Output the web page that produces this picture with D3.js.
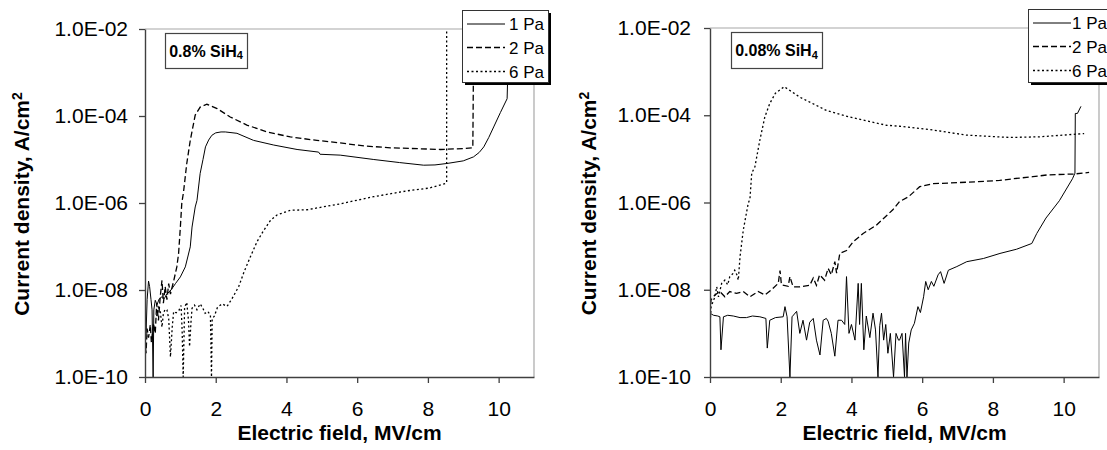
<!DOCTYPE html>
<html>
<head>
<meta charset="utf-8">
<script src="https://cdn.jsdelivr.net/npm/d3@7"></script>
<style>
  html, body { margin: 0; padding: 0; background: #fff; }
  svg { display: block; font-family: "Liberation Sans", Arial, sans-serif; }
</style>
</head>
<body>
<svg id="chart" width="1107" height="450"></svg>
<script>
// Current density vs. electric field, two SiH4 concentrations, three pressures.
// Each point: [electric field (MV/cm), current density (A/cm^2)]

const pressures = ["1 Pa", "2 Pa", "6 Pa"];
const xTicks = [0, 2, 4, 6, 8, 10];
const yTicks = [1e-2, 1e-4, 1e-6, 1e-8, 1e-10];
const panelTitles = ["0.8% SiH", "0.08% SiH"];

// 0.8% SiH4
const left1Pa = [[0.00,3.0e-9],[0.03,1.0e-9],[0.06,6.0e-9],[0.10,1.6e-8],[0.13,1.2e-8],[0.17,6.0e-9],[0.20,3.5e-9],[0.23,1.0e-10],[0.25,3.5e-9],[0.29,5.8e-9],[0.34,4.6e-9],[0.40,6.2e-9],[0.48,7.0e-9],[0.55,6.4e-9],[0.62,8.3e-9],[0.70,9.2e-9],[0.76,1.07e-8],[0.86,1.4e-8],[1.00,2.0e-8],[1.14,3.4e-8],[1.28,9.8e-8],[1.33,2.8e-7],[1.42,8.1e-7],[1.47,1.15e-6],[1.56,4.8e-6],[1.64,1.0e-5],[1.71,1.95e-5],[1.80,2.8e-5],[1.89,3.6e-5],[2.00,4.1e-5],[2.15,4.3e-5],[2.27,4.3e-5],[2.60,4.0e-5],[3.07,2.75e-5],[3.64,2.15e-5],[4.30,1.7e-5],[4.91,1.48e-5],[4.95,1.32e-5],[5.52,1.26e-5],[6.47,1.0e-5],[7.20,8.5e-6],[7.88,7.4e-6],[8.20,7.5e-6],[8.54,8.1e-6],[9.00,9.3e-6],[9.29,1.15e-5],[9.45,1.45e-5],[9.58,1.95e-5],[9.72,3.2e-5],[9.86,5.6e-5],[10.05,1.2e-4],[10.24,2.5e-4],[10.27,2.0e-3]];
const left2Pa = [[0.00,7.0e-10],[0.03,3.5e-10],[0.06,1.3e-9],[0.10,8.0e-10],[0.15,1.6e-9],[0.18,6.3e-10],[0.24,1.7e-9],[0.29,1.0e-9],[0.33,4.9e-9],[0.38,2.0e-9],[0.43,6.9e-9],[0.48,1.66e-8],[0.52,5.0e-9],[0.57,1.2e-8],[0.62,6.0e-9],[0.67,1.4e-8],[0.72,8.0e-9],[0.76,1.1e-8],[0.81,1.6e-8],[0.90,3.4e-8],[0.95,6.9e-8],[1.00,2.8e-7],[1.04,9.8e-7],[1.09,1.8e-6],[1.18,8.0e-6],[1.28,2.75e-5],[1.42,1.05e-4],[1.56,1.6e-4],[1.75,1.86e-4],[2.04,1.48e-4],[2.41,9.5e-5],[2.88,6.2e-5],[3.45,4.3e-5],[4.11,3.3e-5],[4.86,2.75e-5],[5.52,2.4e-5],[6.20,2.05e-5],[6.94,1.86e-5],[8.35,1.7e-5],[9.00,1.78e-5],[9.27,1.86e-5],[9.29,2.0e-3]];
const left6Pa = [[0.33,2.5e-9],[0.38,4.0e-9],[0.43,3.4e-9],[0.48,1.4e-9],[0.52,2.9e-9],[0.57,3.6e-9],[0.62,3.5e-9],[0.67,2.2e-9],[0.72,2.9e-10],[0.77,1.4e-9],[0.81,3.2e-9],[0.88,3.0e-9],[0.96,3.4e-9],[1.02,4.4e-9],[1.05,1.2e-9],[1.08,1.0e-10],[1.12,4.0e-9],[1.18,5.2e-9],[1.23,2.0e-9],[1.26,5.0e-10],[1.30,1.8e-9],[1.33,3.8e-9],[1.40,4.5e-9],[1.47,3.5e-9],[1.56,4.8e-9],[1.63,3.9e-9],[1.70,2.9e-9],[1.78,3.2e-9],[1.85,2.6e-9],[1.88,1.0e-10],[1.90,2.2e-9],[1.96,2.5e-9],[2.05,4.0e-9],[2.18,4.8e-9],[2.32,4.2e-9],[2.46,6.3e-9],[2.65,1.2e-8],[2.80,2.6e-8],[2.98,5.8e-8],[3.17,1.3e-7],[3.35,2.3e-7],[3.55,4.0e-7],[3.73,5.3e-7],[4.11,6.8e-7],[4.58,7.0e-7],[5.50,9.5e-7],[6.47,1.4e-6],[7.41,1.9e-6],[8.03,2.2e-6],[8.49,2.8e-6],[8.53,2.9e-6],[8.53,1.0e-2]];

// 0.08% SiH4
const right1Pa = [[0.00,2.9e-9],[0.10,2.6e-9],[0.22,2.5e-9],[0.28,2.4e-9],[0.31,4.2e-10],[0.38,2.4e-9],[0.50,2.6e-9],[0.66,2.5e-9],[0.85,2.3e-9],[1.03,2.3e-9],[1.20,2.5e-9],[1.41,2.4e-9],[1.58,2.2e-9],[1.62,4.6e-10],[1.69,2.0e-9],[1.85,2.3e-9],[2.07,2.4e-9],[2.12,4.1e-9],[2.18,2.4e-9],[2.26,1.0e-10],[2.32,2.4e-9],[2.45,3.2e-9],[2.54,1.0e-9],[2.63,2.0e-9],[2.73,7.0e-10],[2.82,1.8e-9],[2.92,2.2e-9],[3.01,7.0e-10],[3.11,3.2e-10],[3.20,2.0e-9],[3.29,2.2e-9],[3.34,1.9e-9],[3.43,1.0e-9],[3.53,3.0e-10],[3.62,2.0e-9],[3.72,2.0e-9],[3.81,1.6e-9],[3.86,2.0e-8],[3.93,1.0e-9],[4.00,1.6e-9],[4.10,7.0e-10],[4.19,1.4e-8],[4.23,1.6e-9],[4.28,1.4e-8],[4.35,4.2e-10],[4.42,2.5e-9],[4.52,8.0e-10],[4.61,2.9e-9],[4.68,1.2e-9],[4.75,1.0e-10],[4.80,1.5e-9],[4.85,2.9e-9],[4.91,7.0e-10],[4.97,1.6e-9],[5.03,3.5e-10],[5.10,1.0e-9],[5.19,1.0e-10],[5.26,1.0e-9],[5.33,7.0e-10],[5.36,7.0e-10],[5.43,1.0e-9],[5.50,1.0e-10],[5.53,1.0e-9],[5.57,1.0e-10],[5.62,6.0e-10],[5.69,1.2e-9],[5.78,1.7e-9],[5.88,4.1e-9],[5.95,3.0e-9],[6.04,6.9e-9],[6.10,1.55e-8],[6.17,1.0e-8],[6.26,1.55e-8],[6.33,1.2e-8],[6.45,2.2e-8],[6.52,2.6e-8],[6.62,1.4e-8],[6.74,2.8e-8],[6.98,3.4e-8],[7.26,4.4e-8],[7.73,5.2e-8],[8.20,6.8e-8],[8.67,8.5e-8],[9.10,1.15e-7],[9.24,1.95e-7],[9.50,4.4e-7],[9.88,1.1e-6],[10.25,3.5e-6],[10.32,4.7e-6],[10.33,1.1e-4],[10.39,1.1e-4],[10.49,1.6e-4]];
const right2Pa = [[0.00,2.9e-9],[0.03,5.9e-9],[0.14,7.6e-9],[0.28,9.1e-9],[0.42,6.9e-9],[0.56,9.1e-9],[0.75,8.3e-9],[0.94,9.1e-9],[1.13,6.9e-9],[1.36,9.1e-9],[1.55,7.6e-9],[1.74,1.0e-8],[1.93,1.4e-8],[1.98,2.75e-8],[2.02,1.3e-8],[2.21,1.2e-8],[2.26,2.0e-8],[2.35,1.17e-8],[2.54,1.17e-8],[2.82,1.26e-8],[2.92,1.86e-8],[3.01,1.26e-8],[3.10,2.2e-8],[3.24,1.66e-8],[3.34,3.1e-8],[3.43,2.2e-8],[3.53,4.4e-8],[3.58,2.4e-8],[3.67,6.8e-8],[3.86,7.9e-8],[4.05,1.26e-7],[4.33,1.95e-7],[4.70,3.0e-7],[5.17,6.8e-7],[5.36,1.05e-6],[5.61,1.35e-6],[5.93,2.3e-6],[6.30,2.7e-6],[6.77,2.8e-6],[7.58,3.0e-6],[8.19,3.2e-6],[8.57,3.5e-6],[9.13,3.9e-6],[9.55,4.3e-6],[10.30,4.5e-6],[10.72,4.9e-6]];
const right6Pa = [[0.00,1.45e-9],[0.03,4.1e-9],[0.14,6.9e-9],[0.19,1.17e-8],[0.24,6.9e-9],[0.33,1.4e-8],[0.42,1.66e-8],[0.50,1.3e-8],[0.56,2.0e-8],[0.66,2.4e-8],[0.70,2.8e-8],[0.76,2.2e-8],[0.80,1.66e-8],[0.85,5.8e-8],[0.94,2.3e-7],[1.08,9.5e-7],[1.13,1.23e-6],[1.18,4.7e-6],[1.27,6.6e-6],[1.41,2.7e-5],[1.55,9.1e-5],[1.69,1.86e-4],[1.85,3.2e-4],[2.10,4.5e-4],[2.54,2.6e-4],[3.29,1.29e-4],[3.95,9.1e-5],[4.99,5.9e-5],[5.36,5.6e-5],[6.30,4.6e-5],[7.25,3.5e-5],[8.47,3.1e-5],[9.31,3.2e-5],[10.58,3.8e-5]];

const FONT = "'Liberation Sans', Arial, sans-serif";
const dashes = [null, "6,3", "2,2.5"];

const panels = [
  { left: 145, right: 534, top: 29, bottom: 377, series: [left1Pa, left2Pa, left6Pa],
    title: panelTitles[0], tagBox: { x: 165, y: 33, w: 82, h: 35 },
    legend: { x: 462, y: 10, w: 86, h: 72, lineX0: 467, lineX1: 505, textX: 509 },
    yTitleX: 22, labelGap: 11 },
  { left: 710, right: 1099, top: 28, bottom: 377, series: [right1Pa, right2Pa, right6Pa],
    title: panelTitles[1], tagBox: { x: 731, y: 32, w: 91, h: 36 },
    legend: { x: 1028, y: 9, w: 92, h: 73, lineX0: 1033, lineX1: 1071, textX: 1072 },
    yTitleX: 589, labelGap: 13 }
];

const svg = d3.select("#chart");
const fmtY = v => {
  const e = Math.round(Math.log10(v));
  return "1.0E-" + String(-e).padStart(2, "0");
};

panels.forEach((p, i) => {
  const x = d3.scaleLinear().domain([0, 11]).range([p.left, p.right]);
  const y = d3.scaleLog().domain([1e-10, 1e-2]).range([p.bottom, p.top]);
  const g = svg.append("g");

  // plot frame: light top/right border
  g.append("path")
    .attr("d", `M${p.left},${p.top}H${p.right}V${p.bottom}`)
    .attr("fill", "none").attr("stroke", "#a8a8a8").attr("stroke-width", 1.2);

  const clipId = "clip" + i;
  svg.append("clipPath").attr("id", clipId)
    .append("rect").attr("x", p.left).attr("y", p.top - 1)
    .attr("width", p.right - p.left).attr("height", p.bottom - p.top + 1);

  // data curves
  const line = d3.line().x(d => x(d[0])).y(d => y(Math.max(d[1], 1e-10)));
  p.series.forEach((s, k) => {
    g.append("path")
      .datum(s)
      .attr("clip-path", `url(#${clipId})`)
      .attr("d", line)
      .attr("fill", "none")
      .attr("stroke", "#000")
      .attr("stroke-width", k === 0 ? 1 : 1.3)
      .attr("stroke-dasharray", dashes[k]);
  });

  // axes
  const ax = g.append("g").attr("transform", `translate(0,${p.bottom})`)
    .call(d3.axisBottom(x).tickValues(xTicks).tickSize(6).tickSizeOuter(0).tickPadding(18));
  const ay = g.append("g").attr("transform", `translate(${p.left},0)`)
    .call(d3.axisLeft(y).tickValues(yTicks).tickFormat(fmtY).tickSize(6).tickSizeOuter(0).tickPadding(p.labelGap));
  [ax, ay].forEach(a => {
    a.select(".domain").attr("stroke", "#404040").attr("stroke-width", 1.4);
    a.selectAll(".tick line").attr("stroke", "#404040").attr("stroke-width", 1.3);
    a.selectAll(".tick text").attr("fill", "#000").style("font-family", FONT).style("font-size", "21px");
  });

  // axis titles
  g.append("text")
    .attr("x", (p.left + p.right) / 2).attr("y", 440)
    .attr("text-anchor", "middle")
    .style("font-family", FONT).style("font-size", "21px").style("font-weight", "bold")
    .text("Electric field, MV/cm");
  const yt = g.append("text")
    .attr("transform", `translate(${p.yTitleX},${(p.top + p.bottom) / 2 + 1}) rotate(-90)`)
    .attr("text-anchor", "middle").attr("dy", "0.35em")
    .style("font-family", FONT).style("font-size", "21px").style("font-weight", "bold");
  yt.append("tspan").text("Current density,  A/cm");
  yt.append("tspan").attr("dy", "-0.5em").style("font-size", "14px").text("2");

  // concentration tag
  const tb = p.tagBox;
  g.append("rect").attr("x", tb.x + 0.5).attr("y", tb.y + 0.5).attr("width", tb.w).attr("height", tb.h)
    .attr("fill", "#fff").attr("stroke", "#444").attr("stroke-width", 1.2);
  const tt = g.append("text")
    .attr("x", tb.x + tb.w / 2).attr("y", tb.y + tb.h / 2 + 6)
    .attr("text-anchor", "middle")
    .style("font-family", FONT).style("font-size", "16px").style("font-weight", "bold");
  tt.append("tspan").text(p.title);
  tt.append("tspan").attr("dy", "0.25em").style("font-size", "11px").text("4");

  // legend with drop shadow
  const L = p.legend;
  const lg = g.append("g");
  lg.append("rect").attr("x", L.x + 3).attr("y", L.y + 3).attr("width", L.w).attr("height", L.h).attr("fill", "#000");
  lg.append("rect").attr("x", L.x + 0.5).attr("y", L.y + 0.5).attr("width", L.w).attr("height", L.h)
    .attr("fill", "#fff").attr("stroke", "#333").attr("stroke-width", 1);
  const rows = [14, 37.5, 61.5];
  pressures.forEach((name, k) => {
    const ry = L.y + rows[k];
    lg.append("line").attr("x1", L.lineX0).attr("x2", L.lineX1).attr("y1", ry).attr("y2", ry)
      .attr("stroke", "#000").attr("stroke-width", k === 0 ? 1 : 1.3).attr("stroke-dasharray", dashes[k]);
    lg.append("text").attr("x", L.textX).attr("y", ry + 6)
      .style("font-family", FONT).style("font-size", "17px").text(name);
  });
});
</script>
</body>
</html>
